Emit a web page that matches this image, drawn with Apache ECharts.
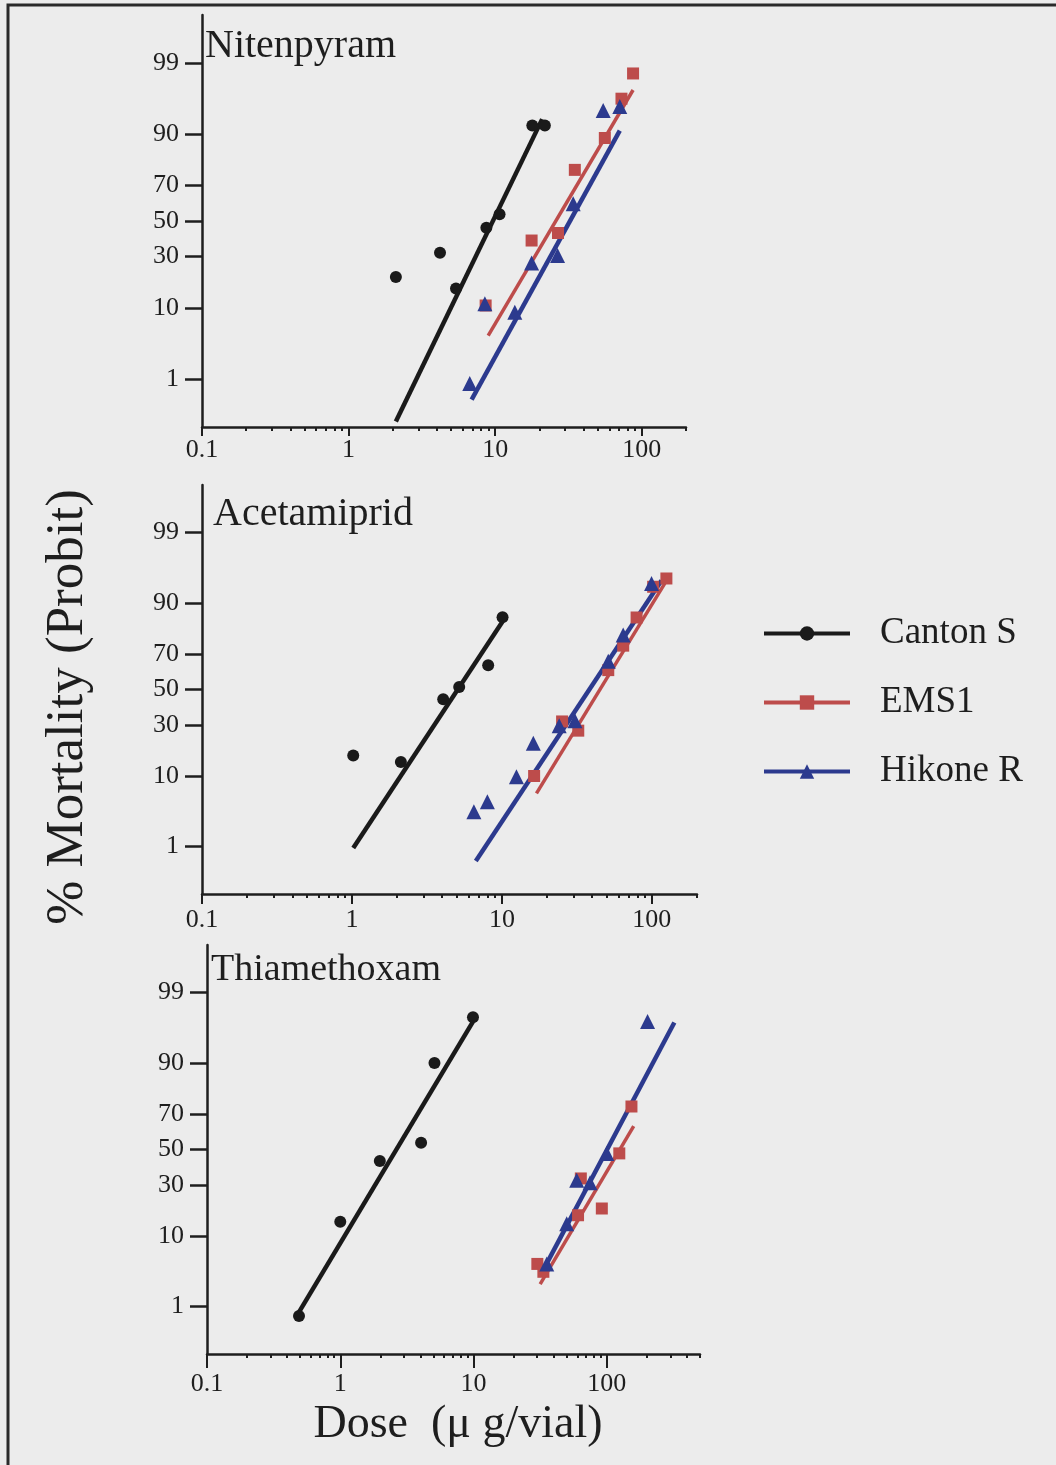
<!DOCTYPE html>
<html lang="en">
<head>
    <meta charset="UTF-8">
    <title>probit dose response</title>
    <script type="text/javascript" src="https://cdn.jsdelivr.net/npm/echarts@6/dist/echarts.min.js"></script>
    <style>
        html, body { margin: 0; padding: 0; background: #ececec; }
    </style>
</head>
<body>
    <div id="main" style="width: 1056px; height: 1465px;"></div>

    <script type="text/javascript">
        // ---- data (dose in ug/vial, mortality in %) ----
        var strains = ['Canton S', 'EMS1', 'Hikone R'];
        var panels = ['Nitenpyram', 'Acetamiprid', 'Thiamethoxam'];
        var yTickPct = [1, 10, 30, 50, 70, 90, 99];
        var xTicks = [0.1, 1, 10, 100];
        var xMax = [200, 200, 500];

        // Nitenpyram
        var nitDose = [
            [2.1, 4.2, 5.4, 8.7, 10.7, 17.9, 21.8],
            [8.6, 17.7, 26.8, 34.9, 55.9, 72.6, 87.1],
            [6.7, 8.5, 13.6, 17.7, 26.6, 34, 54.5, 70.7]
        ];
        var nitMort = [
            [20.5, 32, 16, 46, 54, 92, 92],
            [10.7, 38.7, 43, 77.4, 88.9, 96.4, 98.5],
            [0.84, 11.2, 9, 26.8, 30.6, 60, 94.8, 95.4]
        ];
        var nitFitDose = [[2.1, 20.9], [8.95, 87.1], [6.9, 70.7]];
        var nitFitMort = [[0.16, 93.3], [4.6, 97.3], [0.43, 90.8]];

        // Acetamiprid
        var aceDose = [
            [1.02, 2.12, 4.06, 5.19, 8.1, 10.1],
            [16.4, 25.2, 32.3, 51.2, 64.4, 79.1, 102, 125],
            [6.5, 8, 12.5, 16.2, 24.1, 30.7, 51.2, 64.4, 99.5]
        ];
        var aceMort = [
            [16.4, 14.1, 44.3, 51.5, 64, 85.8],
            [10, 31.8, 27.1, 61.3, 74.2, 85.7, 93.6, 95],
            [3.5, 4.8, 9.8, 21.3, 29.6, 32.2, 66.2, 79, 94.2]
        ];
        var aceFitDose = [[1.02, 10.1], [17, 122], [6.7, 116]];
        var aceFitMort = [[0.94, 84.3], [6.2, 94.2], [0.55, 94.7]];

        // Thiamethoxam
        var thiDose = [
            [0.49, 1.0, 1.98, 4.04, 5.09, 9.9],
            [30.1, 33.4, 60.8, 63.8, 91.7, 124, 153],
            [35.4, 50, 59.4, 74.8, 100, 202]
        ];
        var thiMort = [
            [0.68, 14.2, 43.2, 54, 90, 97.5],
            [4.5, 3.5, 16.5, 33.4, 19.1, 47.7, 73.8],
            [4.5, 13.6, 32.5, 31.1, 47.7, 97.1]
        ];
        var thiFitDose = [[0.49, 9.9], [31.6, 159], [34.8, 321]];
        var thiFitMort = [[0.8, 97.1], [2.3, 63.6], [4.3, 97]];

        var doses = [nitDose, aceDose, thiDose];
        var morts = [nitMort, aceMort, thiMort];
        var fitDoses = [nitFitDose, aceFitDose, thiFitDose];
        var fitMorts = [nitFitMort, aceFitMort, thiFitMort];

        // ---- style ----
        var FONT = '"Liberation Serif", "Times New Roman", serif';
        var INK = '#1e1e1e';
        var colors = ['#1a1a1a', '#bd4c4b', '#2c3a8e'];
        var symbols = ['circle', 'rect', 'triangle'];
        var symbolSizes = [12, 12, 15];
        var lineWidths = [4.5, 3.5, 4.5];

        var grids = [
            { left: 202, top: 15, width: 484, height: 412 },
            { left: 202, top: 485, width: 495, height: 409 },
            { left: 207, top: 945, width: 493, height: 409 }
        ];
        var xLabelMargin = [10, 13, 17];
        var majorTickLen = [9, 10, 14];

        // inverse normal cdf (Acklam), used for the probit scale
        function probit(pct) {
            var p = pct / 100;
            var a = [-3.969683028665376e+01, 2.209460984245205e+02, -2.759285104469687e+02, 1.383577518672690e+02, -3.066479806614716e+01, 2.506628277459239e+00];
            var b = [-5.447609879822406e+01, 1.615858368580409e+02, -1.556989798598866e+02, 6.680131188771972e+01, -1.328068155288572e+01];
            var c = [-7.784894002430293e-03, -3.223964580411365e-01, -2.400758277161838e+00, -2.549671010229528e+00, 4.374664141464968e+00, 2.938163982698783e+00];
            var d = [7.784695709041462e-03, 3.224671290700398e-01, 2.445134137142996e+00, 3.754408661907416e+00];
            var q, r;
            if (p < 0.02425) {
                q = Math.sqrt(-2 * Math.log(p));
                return (((((c[0] * q + c[1]) * q + c[2]) * q + c[3]) * q + c[4]) * q + c[5]) / ((((d[0] * q + d[1]) * q + d[2]) * q + d[3]) * q + 1);
            }
            if (p > 1 - 0.02425) {
                q = Math.sqrt(-2 * Math.log(1 - p));
                return -(((((c[0] * q + c[1]) * q + c[2]) * q + c[3]) * q + c[4]) * q + c[5]) / ((((d[0] * q + d[1]) * q + d[2]) * q + d[3]) * q + 1);
            }
            q = p - 0.5;
            r = q * q;
            return (((((a[0] * r + a[1]) * r + a[2]) * r + a[3]) * r + a[4]) * r + a[5]) * q / (((((b[0] * r + b[1]) * r + b[2]) * r + b[3]) * r + b[4]) * r + 1);
        }

        var yTickPos = yTickPct.map(probit);

        function yLabel(v) {
            var best = 0;
            for (var i = 1; i < yTickPos.length; i++) {
                if (Math.abs(yTickPos[i] - v) < Math.abs(yTickPos[best] - v)) best = i;
            }
            return String(yTickPct[best]);
        }

        function minorTicks(max) {
            var out = [];
            for (var dec = 0.1; dec < max; dec *= 10) {
                for (var k = 2; k <= 9; k++) {
                    var v = +(k * dec).toPrecision(3);
                    if (v <= max) out.push(v);
                }
            }
            return out;
        }

        var xAxes = [], yAxes = [], series = [];

        grids.forEach(function (g, i) {
            // major axis: line, labels, long ticks
            xAxes.push({
                type: 'log', logBase: 10, gridIndex: i, min: 0.1, max: xMax[i],
                position: 'bottom',
                axisLine: { show: true, onZero: false, lineStyle: { color: INK, width: 2.5 } },
                axisTick: { show: true, customValues: xTicks, length: majorTickLen[i], lineStyle: { color: INK, width: 2 } },
                axisLabel: {
                    customValues: xTicks, margin: xLabelMargin[i],
                    fontFamily: FONT, fontSize: 26, color: INK,
                    formatter: function (v) { return String(+(+v).toPrecision(3)); }
                },
                splitLine: { show: false }, minorTick: { show: false }
            });
            // minor ticks at 2..9 of every decade
            xAxes.push({
                type: 'log', logBase: 10, gridIndex: i, min: 0.1, max: xMax[i],
                position: 'bottom',
                axisLine: { show: false, onZero: false },
                axisTick: { show: true, customValues: minorTicks(xMax[i]), length: 4, lineStyle: { color: INK, width: 2 } },
                axisLabel: { show: false },
                splitLine: { show: false }
            });
            yAxes.push({
                type: 'value', gridIndex: i, min: -3.03, max: 3.03,
                axisLine: { show: true, onZero: false, lineStyle: { color: INK, width: 2.5 } },
                axisTick: { show: true, customValues: yTickPos, length: 17, lineStyle: { color: INK, width: 2.5 } },
                axisLabel: {
                    customValues: yTickPos, margin: 23,
                    fontFamily: FONT, fontSize: 26, color: INK,
                    formatter: yLabel
                },
                splitLine: { show: false }
            });

            // fitted probit lines first so the legend takes the line icon
            strains.forEach(function (name, s) {
                series.push({
                    type: 'line', name: name, xAxisIndex: 2 * i, yAxisIndex: i,
                    data: fitDoses[i][s].map(function (x, k) { return [x, probit(fitMorts[i][s][k])]; }),
                    symbol: symbols[s], symbolSize: symbolSizes[s], showSymbol: false,
                    lineStyle: { color: colors[s], width: lineWidths[s] },
                    itemStyle: { color: colors[s] },
                    z: 2
                });
            });
            strains.forEach(function (name, s) {
                series.push({
                    type: 'scatter', name: name, xAxisIndex: 2 * i, yAxisIndex: i,
                    data: doses[i][s].map(function (x, k) { return [x, probit(morts[i][s][k])]; }),
                    symbol: symbols[s], symbolSize: symbolSizes[s],
                    itemStyle: { color: colors[s], opacity: 1 },
                    z: 3
                });
            });
        });

        var titleY = [46, 514, 970];
        var titleX = [205, 213, 211];
        var titleSize = [40, 40, 38];

        var graphics = [{
            type: 'polyline',
            shape: { points: [[8, 1465], [8, 5], [1056, 5]] },
            style: { stroke: '#2a2a2a', lineWidth: 3, fill: null },
            silent: true
        }, {
            type: 'text', x: 68, y: 707, rotation: Math.PI / 2,
            style: { text: '% Mortality (Probit)', font: '53px ' + FONT, fill: INK, textAlign: 'center', textVerticalAlign: 'middle' },
            silent: true
        }, {
            type: 'text', x: 458, y: 1425,
            style: { text: 'Dose  (\u03bc g/vial)', font: '46px ' + FONT, fill: INK, textAlign: 'center', textVerticalAlign: 'middle' },
            silent: true
        }];
        panels.forEach(function (t, i) {
            graphics.push({
                type: 'text', x: titleX[i], y: titleY[i],
                style: { text: t, font: titleSize[i] + 'px ' + FONT, fill: INK, textAlign: 'left', textVerticalAlign: 'middle' },
                silent: true
            });
        });

        var myChart = echarts.init(document.getElementById('main'));
        myChart.setOption({
            animation: false,
            backgroundColor: '#ececec',
            grid: grids,
            xAxis: xAxes,
            yAxis: yAxes,
            legend: {
                orient: 'vertical', left: 757, top: 610,
                itemWidth: 86, itemHeight: 18, itemGap: 32,
                selectedMode: false,
                data: strains,
                lineStyle: { width: 4 },
                textStyle: { fontFamily: FONT, fontSize: 37, color: INK, padding: [0, 0, 0, 25] }
            },
            graphic: graphics,
            series: series
        });
    </script>
</body>
</html>
